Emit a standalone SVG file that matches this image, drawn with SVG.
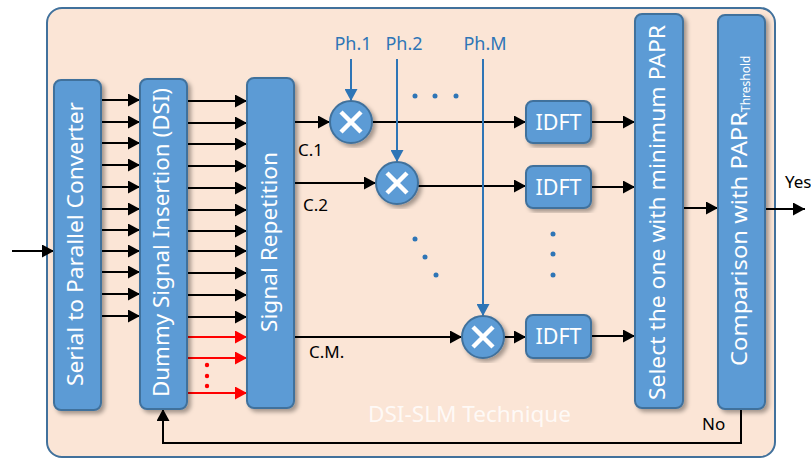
<svg xmlns="http://www.w3.org/2000/svg" width="811" height="459" viewBox="0 0 811 459">
<defs>
<style>
.blk{fill:#5B9BD5;stroke:#41719C;stroke-width:2;filter:url(#sh)}
.bt{fill:#fff;font-family:"Noto Sans","Open Sans",sans-serif;font-size:22px}
.ln{stroke:#000;stroke-width:2;fill:none;marker-end:url(#ah)}
.rd{stroke:#f00;stroke-width:2;fill:none;marker-end:url(#ar)}
.ph{stroke:#2E75B6;stroke-width:2;fill:none;marker-end:url(#ab)}
.phl{fill:#2E75B6;font-family:"Noto Sans","Open Sans",sans-serif;font-size:18px;text-anchor:middle}
.lb{fill:#000;font-family:"Noto Sans","Open Sans",sans-serif;font-size:17px}
.x{stroke:#fff;stroke-width:4.5;stroke-linecap:butt}
.dot{fill:#2E75B6}
</style>
<filter id="sh" x="-30%" y="-10%" width="160%" height="120%">
<feDropShadow dx="3" dy="3" stdDeviation="2" flood-color="#000" flood-opacity="0.35"/>
</filter>
<marker id="ah" markerUnits="userSpaceOnUse" markerWidth="12" markerHeight="13" refX="12" refY="6.5" orient="auto"><path d="M0,0 L12,6.5 L0,13 z" fill="#000"/></marker>
<marker id="ar" markerUnits="userSpaceOnUse" markerWidth="12" markerHeight="13" refX="12" refY="6.5" orient="auto"><path d="M0,0 L12,6.5 L0,13 z" fill="#f00"/></marker>
<marker id="ab" markerUnits="userSpaceOnUse" markerWidth="12" markerHeight="13" refX="12" refY="6.5" orient="auto"><path d="M0,0 L12,6.5 L0,13 z" fill="#2E75B6"/></marker>
</defs>

<g id="frame">
<rect x="47" y="8" width="728" height="449" rx="15" fill="#FBE5D6" stroke="#41719C" stroke-width="2"/>
<text x="469.5" y="422" text-anchor="middle" font-family="Noto Sans, Open Sans, sans-serif" font-size="21" fill="#fff" fill-opacity="0.8" textLength="203" lengthAdjust="spacingAndGlyphs">DSI-SLM Technique</text>
</g>

<g id="connectors">
<line class="ln" x1="12" y1="251" x2="54" y2="251"/>
<g id="s2p-dsi">
<line class="ln" x1="101" y1="100" x2="140" y2="100"/>
<line class="ln" x1="101" y1="122" x2="140" y2="122"/>
<line class="ln" x1="101" y1="143" x2="140" y2="143"/>
<line class="ln" x1="101" y1="165" x2="140" y2="165"/>
<line class="ln" x1="101" y1="187" x2="140" y2="187"/>
<line class="ln" x1="101" y1="209" x2="140" y2="209"/>
<line class="ln" x1="101" y1="230" x2="140" y2="230"/>
<line class="ln" x1="101" y1="251" x2="140" y2="251"/>
<line class="ln" x1="101" y1="272" x2="140" y2="272"/>
<line class="ln" x1="101" y1="294" x2="140" y2="294"/>
<line class="ln" x1="101" y1="316" x2="140" y2="316"/>
</g>
<g id="dsi-sr">
<line class="ln" x1="188" y1="101" x2="247" y2="101"/>
<line class="ln" x1="188" y1="123" x2="247" y2="123"/>
<line class="ln" x1="188" y1="144" x2="247" y2="144"/>
<line class="ln" x1="188" y1="166" x2="247" y2="166"/>
<line class="ln" x1="188" y1="188" x2="247" y2="188"/>
<line class="ln" x1="188" y1="210" x2="247" y2="210"/>
<line class="ln" x1="188" y1="231" x2="247" y2="231"/>
<line class="ln" x1="188" y1="251" x2="247" y2="251"/>
<line class="ln" x1="188" y1="273" x2="247" y2="273"/>
<line class="ln" x1="188" y1="295" x2="247" y2="295"/>
<line class="ln" x1="188" y1="317" x2="247" y2="317"/>
<line class="rd" x1="188" y1="337" x2="247" y2="337"/>
<line class="rd" x1="188" y1="358" x2="247" y2="358"/>
<line class="rd" x1="188" y1="393" x2="247" y2="393"/>
<circle cx="207" cy="365" r="2.2" fill="#f00"/>
<circle cx="207" cy="376" r="2.2" fill="#f00"/>
<circle cx="207" cy="386" r="2.2" fill="#f00"/>
</g>
<g id="branches">
<line class="ln" x1="294" y1="122" x2="330" y2="122"/>
<line class="ln" x1="372" y1="122" x2="526" y2="122"/>
<line class="ln" x1="294" y1="183" x2="376" y2="183"/>
<line class="ln" x1="418" y1="186" x2="526" y2="186"/>
<line class="ln" x1="294" y1="337" x2="462" y2="337"/>
<line class="ln" x1="504" y1="337" x2="526" y2="337"/>
<line class="ph" x1="351" y1="59" x2="351" y2="101"/>
<line class="ph" x1="397" y1="59" x2="397" y2="162"/>
<line class="ph" x1="483" y1="59" x2="483" y2="316"/>
</g>
<g id="to-select">
<line class="ln" x1="591" y1="122" x2="635" y2="122"/>
<line class="ln" x1="591" y1="187" x2="635" y2="187"/>
<line class="ln" x1="591" y1="336" x2="635" y2="336"/>
<line class="ln" x1="683" y1="208" x2="718" y2="208"/>
<line class="ln" x1="765" y1="209" x2="805" y2="209"/>
<polyline class="ln" points="741,409 741,443 163,443 163,409"/>
</g>
<g id="dots">
<circle class="dot" cx="415" cy="96" r="2.5"/>
<circle class="dot" cx="435" cy="96" r="2.5"/>
<circle class="dot" cx="456" cy="96" r="2.5"/>
<circle class="dot" cx="415" cy="239" r="2.5"/>
<circle class="dot" cx="425" cy="257" r="2.5"/>
<circle class="dot" cx="436" cy="275" r="2.5"/>
<circle class="dot" cx="553" cy="234" r="2.5"/>
<circle class="dot" cx="553" cy="254" r="2.5"/>
<circle class="dot" cx="553" cy="275" r="2.5"/>
</g>
<text class="lb" x="298" y="156">C.1</text>
<text class="lb" x="303" y="211">C.2</text>
<text class="lb" x="309" y="358">C.M.</text>
<text class="phl" x="353" y="50">Ph.1</text>
<text class="phl" x="404" y="50">Ph.2</text>
<text class="phl" x="485" y="50">Ph.M</text>
<text x="785" y="188" font-family="Noto Sans, Open Sans, sans-serif" font-size="17" fill="#000">Yes</text>
<text x="702" y="430" font-family="Noto Sans, Open Sans, sans-serif" font-size="17" fill="#000">No</text>
</g>

<g id="s2p">
<rect class="blk" x="54" y="80" width="47" height="330" rx="7"/>
<text class="bt" transform="translate(83,244) rotate(-90)" text-anchor="middle" textLength="284" lengthAdjust="spacingAndGlyphs">Serial to Parallel Converter</text>
</g>
<g id="dsi">
<rect class="blk" x="140" y="79" width="47" height="330" rx="7"/>
<text class="bt" transform="translate(169,242.5) rotate(-90)" text-anchor="middle" textLength="309" lengthAdjust="spacingAndGlyphs">Dummy Signal Insertion (DSI)</text>
</g>
<g id="sr">
<rect class="blk" x="247" y="78" width="47" height="330" rx="7"/>
<text class="bt" transform="translate(277,242) rotate(-90)" text-anchor="middle" textLength="180" lengthAdjust="spacingAndGlyphs">Signal Repetition</text>
</g>
<g id="mul1">
<circle class="blk" cx="351" cy="122" r="21"/>
<path class="x" d="M341,112 L361,132 M361,112 L341,132"/>
</g>
<g id="mul2">
<circle class="blk" cx="397" cy="183" r="21"/>
<path class="x" d="M387,173 L407,193 M407,173 L387,193"/>
</g>
<g id="mulM">
<circle class="blk" cx="483" cy="337" r="21"/>
<path class="x" d="M473,327 L493,347 M493,327 L473,347"/>
</g>
<g id="idft1">
<rect class="blk" x="526" y="101" width="65" height="42" rx="7"/>
<text class="bt" x="558.5" y="130" text-anchor="middle" textLength="46" lengthAdjust="spacingAndGlyphs">IDFT</text>
</g>
<g id="idft2">
<rect class="blk" x="526" y="166" width="65" height="42" rx="7"/>
<text class="bt" x="558.5" y="195" text-anchor="middle" textLength="46" lengthAdjust="spacingAndGlyphs">IDFT</text>
</g>
<g id="idftM">
<rect class="blk" x="526" y="315" width="65" height="43" rx="7"/>
<text class="bt" x="558.5" y="344" text-anchor="middle" textLength="46" lengthAdjust="spacingAndGlyphs">IDFT</text>
</g>
<g id="select">
<rect class="blk" x="635" y="14" width="48" height="394" rx="7"/>
<text class="bt" transform="translate(665,212.5) rotate(-90)" text-anchor="middle" textLength="375" lengthAdjust="spacingAndGlyphs">Select the one with minimum PAPR</text>
</g>
<g id="compare">
<rect class="blk" x="718" y="15" width="47" height="394" rx="7"/>
<text class="bt" transform="translate(747,366) rotate(-90)"><tspan textLength="254" lengthAdjust="spacingAndGlyphs">Comparison with PAPR</tspan><tspan font-size="12" dy="3">Threshold</tspan></text>
</g>
</svg>
